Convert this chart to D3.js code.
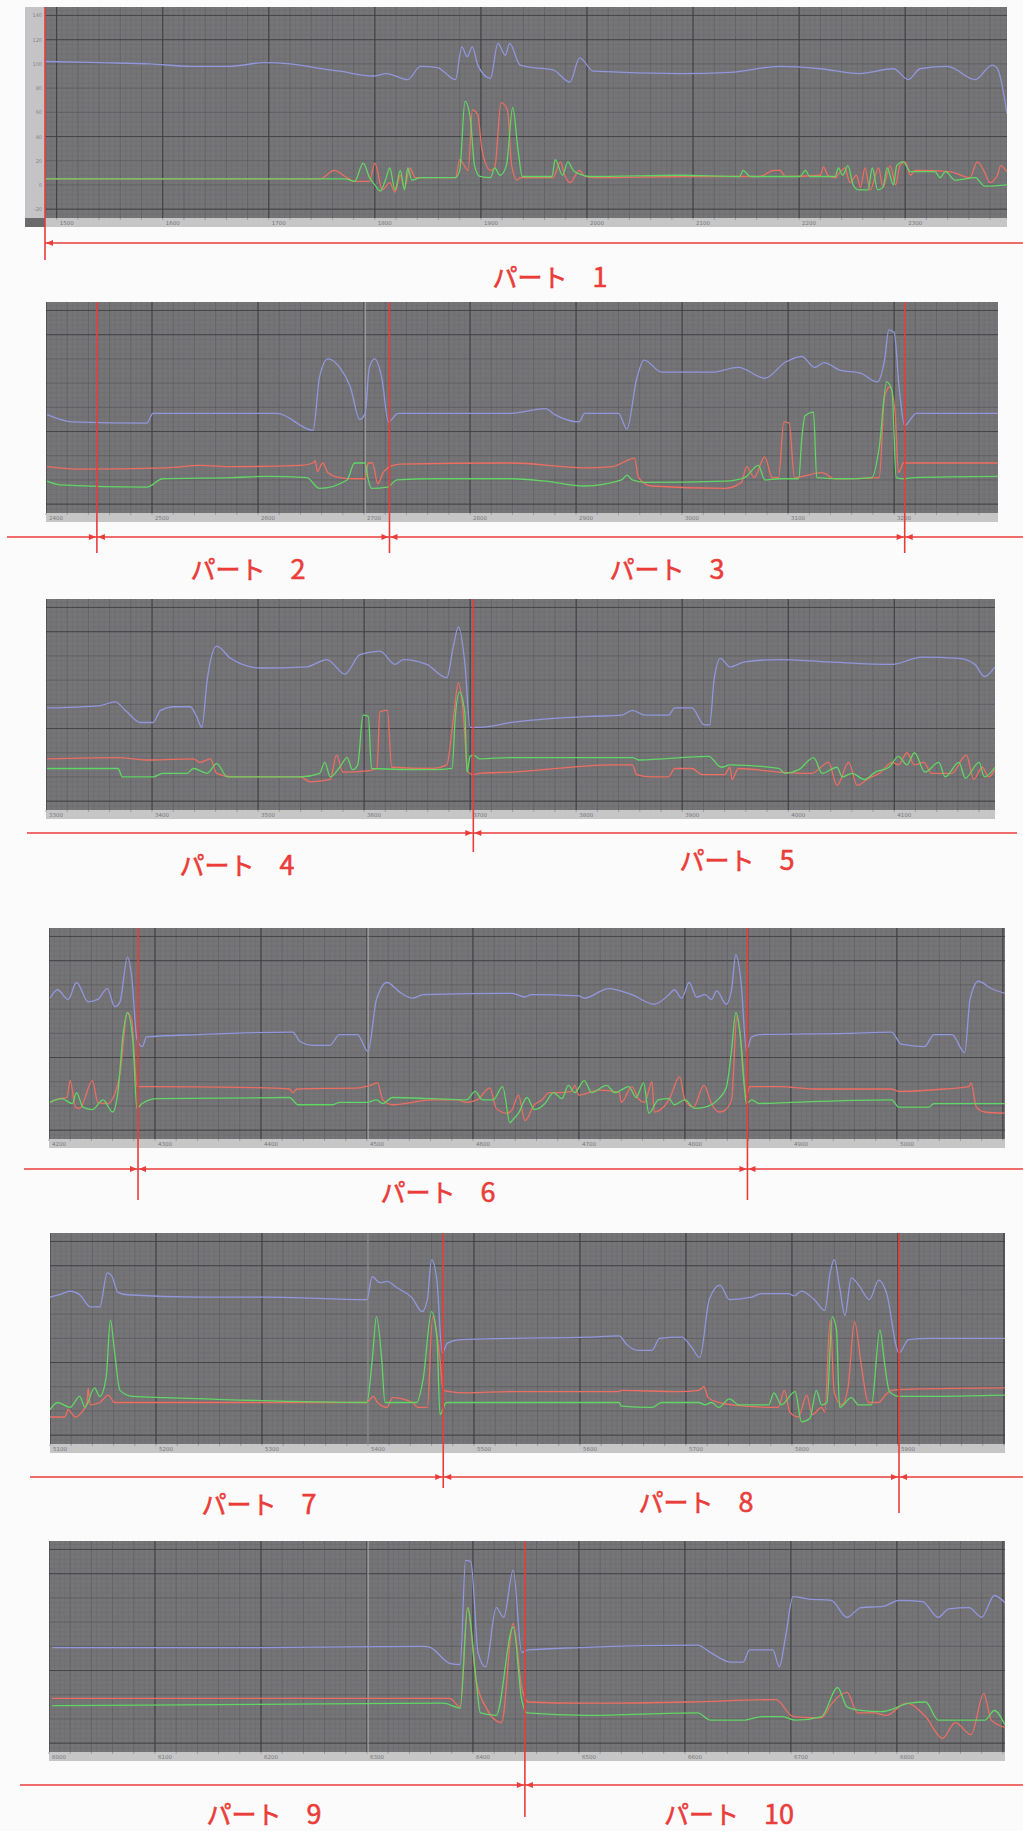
<!DOCTYPE html>
<html>
<head>
<meta charset="utf-8">
<script src="https://cdn.jsdelivr.net/npm/d3@7"></script>
<style>
  body { margin: 0; background: #fbfbfb; }
  svg { display: block; }
</style>
</head>
<body>
<svg id="chart" width="1023" height="1831"></svg>
<script>
// ---- Series data: [time offset within segment, value] ----
const p1Blue = [[0,102],[52,101],[99,100],[137,98],[174,98],[207,101],[231,100],[269,95],[278,94],[309,90],[322,92],[342,87],[354,98],[370,97],[387,87],[393,114],[398,106],[403,114],[408,99],[420,88],[427,117],[434,107],[438,117],[448,99],[460,97],[479,95],[495,85],[504,105],[517,94],[599,92],[646,93],[693,98],[731,96],[768,92],[800,96],[814,87],[825,96],[851,98],[877,87],[893,99],[898,96],[907,59]];
const p1Red = [[0,5],[259,5],[273,12],[283,7],[292,3],[306,3],[311,18],[318,-4],[325,2],[330,-6],[335,8],[339,-2],[344,14],[349,6],[387,6],[391,21],[399,12],[403,62],[408,58],[412,29],[420,12],[424,14],[430,68],[436,62],[440,16],[445,4],[448,6],[479,6],[486,19],[490,8],[495,2],[504,12],[509,7],[519,6],[599,7],[674,7],[687,12],[693,12],[698,7],[731,8],[734,15],[738,8],[745,6],[750,11],[754,14],[759,2],[765,8],[769,-2],[773,14],[778,-4],[786,14],[790,-2],[797,16],[802,0],[806,16],[811,19],[816,8],[820,12],[853,11],[872,6],[879,19],[885,12],[891,2],[898,8],[901,16],[907,11]];
const p1Green = [[0,5],[283,5],[292,3],[300,18],[306,6],[311,0],[316,-5],[321,4],[325,14],[330,-4],[335,12],[339,-4],[342,14],[346,4],[354,6],[387,6],[391,12],[396,69],[401,55],[405,16],[410,7],[420,6],[424,14],[429,8],[435,16],[441,64],[446,29],[450,7],[478,7],[481,21],[488,8],[493,19],[498,12],[504,9],[514,7],[599,8],[655,7],[658,12],[665,7],[712,7],[717,12],[721,7],[745,7],[748,14],[752,8],[757,16],[762,0],[767,-4],[776,-4],[780,14],[785,-4],[790,-2],[794,14],[800,0],[803,16],[809,19],[816,11],[839,11],[844,6],[849,11],[858,4],[877,6],[886,-1],[907,0]];

const p2Blue = [[1,54],[25,48],[95,47],[101,55],[145,55],[218,55],[252,41],[258,85],[266,100],[277,93],[287,77],[296,50],[301,55],[305,93],[310,100],[317,83],[323,48],[332,55],[439,55],[471,59],[480,54],[503,48],[508,55],[540,55],[548,42],[557,83],[564,99],[581,89],[628,89],[653,93],[678,84],[697,97],[713,102],[725,93],[734,97],[748,91],[769,88],[784,81],[791,99],[795,124],[800,122],[805,74],[810,45],[821,55],[848,55],[898,55]];
const p2Red = [[1,11],[29,9],[114,10],[145,12],[176,11],[240,12],[252,14],[254,16],[256,7],[261,14],[266,6],[277,2],[290,1],[301,1],[304,14],[308,14],[313,-3],[318,6],[324,11],[334,13],[439,14],[508,10],[534,11],[548,16],[555,18],[559,2],[571,-5],[640,-7],[656,-2],[661,11],[668,2],[678,19],[685,2],[691,2],[696,48],[701,47],[706,2],[732,6],[744,1],[786,2],[791,69],[796,77],[801,55],[804,6],[809,14],[817,14],[898,14]];
const p2Green = [[1,-1],[13,-4],[95,-6],[110,1],[176,2],[208,3],[246,2],[258,-7],[284,0],[291,14],[301,14],[304,0],[307,-7],[322,-6],[331,0],[365,1],[439,1],[471,-1],[508,-5],[543,0],[548,4],[553,0],[565,-2],[640,-1],[659,2],[672,12],[678,0],[691,1],[710,1],[713,35],[716,53],[724,56],[727,2],[753,1],[779,2],[786,27],[793,81],[798,74],[802,2],[809,1],[819,2],[898,3]];

const p3Blue = [[1,57],[51,59],[65,62],[76,54],[89,45],[101,45],[108,55],[120,58],[136,58],[142,50],[147,41],[152,80],[161,108],[174,98],[202,90],[246,91],[265,97],[282,85],[296,101],[315,104],[329,93],[337,97],[359,93],[378,82],[384,107],[389,124],[395,94],[400,41],[409,41],[439,45],[512,50],[543,51],[553,55],[565,51],[587,51],[593,57],[609,57],[621,43],[626,43],[630,80],[636,98],[645,91],[659,95],[691,97],[738,95],[798,93],[826,99],[861,98],[876,93],[885,83],[895,91]];
const p3Red = [[1,15],[67,16],[98,14],[139,15],[145,12],[155,15],[161,3],[176,0],[240,0],[249,-4],[268,-2],[274,18],[280,4],[303,5],[312,7],[315,54],[322,55],[326,8],[365,7],[378,10],[384,47],[389,78],[393,58],[398,4],[403,2],[409,3],[439,4],[534,10],[553,10],[557,2],[571,0],[587,0],[593,7],[609,7],[619,2],[640,2],[645,8],[647,-2],[653,7],[691,4],[722,3],[738,12],[746,-7],[757,12],[765,-7],[776,-1],[786,3],[798,12],[804,10],[812,20],[819,10],[828,12],[835,3],[854,3],[868,18],[875,-2],[883,8],[889,0],[895,6]];
const p3Green = [[1,7],[68,7],[72,0],[101,0],[110,3],[133,3],[139,7],[152,3],[161,11],[171,0],[240,0],[258,3],[263,12],[268,0],[277,8],[284,16],[289,6],[294,10],[299,51],[304,50],[307,7],[365,6],[383,7],[386,50],[390,70],[395,53],[397,4],[400,17],[403,18],[409,15],[439,16],[553,16],[559,14],[625,17],[637,8],[645,10],[691,7],[697,3],[710,6],[724,16],[732,3],[746,8],[751,0],[760,3],[772,-2],[782,4],[795,8],[804,17],[812,10],[819,20],[829,4],[842,12],[848,0],[861,12],[867,-1],[880,12],[885,0],[895,8]];

const p4Blue = [[1,89],[8,96],[18,88],[26,102],[37,86],[46,88],[55,97],[62,82],[67,86],[74,123],[78,107],[83,55],[88,49],[92,57],[142,59],[230,61],[237,53],[249,50],[265,50],[274,59],[291,59],[301,45],[309,88],[319,102],[331,94],[343,89],[353,92],[437,93],[449,90],[455,92],[500,91],[505,89],[528,97],[550,92],[571,84],[585,92],[590,96],[597,89],[604,102],[611,90],[619,92],[625,88],[630,95],[639,84],[644,96],[648,125],[653,102],[658,46],[663,57],[670,59],[751,60],[795,61],[804,51],[826,49],[835,59],[852,59],[864,44],[869,88],[877,103],[889,97],[902,93]];
const p4Red = [[1,3],[10,6],[17,7],[20,21],[25,-1],[29,-2],[41,21],[46,3],[55,2],[60,6],[67,27],[74,77],[78,71],[83,16],[88,16],[206,15],[227,14],[230,11],[234,14],[293,15],[303,17],[310,19],[315,5],[324,1],[362,5],[385,5],[394,3],[404,5],[416,15],[422,-2],[432,-6],[437,-3],[443,9],[449,-12],[458,1],[465,5],[472,11],[481,11],[493,12],[496,17],[500,9],[519,13],[538,11],[540,3],[550,16],[556,6],[562,3],[569,20],[571,-5],[585,5],[595,24],[600,5],[608,-1],[618,17],[625,2],[632,-5],[637,-4],[644,5],[649,74],[653,52],[658,7],[661,16],[688,16],[726,14],[795,14],[802,12],[845,14],[868,16],[870,19],[875,-1],[883,-5],[902,-6]];
const p4Green = [[1,3],[12,6],[22,2],[26,11],[32,-1],[41,-3],[51,5],[60,-5],[65,11],[70,60],[74,77],[79,55],[83,-2],[88,2],[102,6],[227,7],[235,1],[268,1],[274,3],[300,3],[309,5],[315,2],[324,7],[362,6],[394,5],[402,12],[409,5],[419,5],[428,16],[435,-14],[437,-12],[443,-6],[451,7],[458,-3],[468,2],[476,11],[484,6],[490,17],[496,11],[505,21],[512,11],[526,17],[534,11],[547,16],[554,7],[561,19],[566,-6],[575,5],[585,6],[590,1],[600,5],[609,-2],[619,-1],[632,6],[639,15],[644,46],[648,77],[652,60],[656,16],[658,2],[663,5],[670,2],[701,3],[795,5],[802,-1],[830,-1],[835,2],[877,2],[902,2]];

const p5Blue = [[0,94],[9,96],[19,99],[28,96],[38,86],[47,86],[54,114],[58,112],[64,98],[73,96],[141,94],[205,94],[299,92],[304,111],[311,106],[318,107],[327,102],[342,93],[351,82],[356,92],[360,125],[365,108],[370,48],[375,56],[387,59],[436,60],[508,61],[537,62],[544,55],[555,50],[568,50],[575,60],[596,61],[605,53],[613,44],[622,92],[632,104],[641,92],[662,94],[671,97],[697,97],[702,95],[709,99],[721,92],[731,83],[736,114],[740,125],[745,102],[750,79],[756,110],[763,104],[773,92],[782,108],[789,98],[801,48],[810,59],[829,60],[901,60]];
const p5Red = [[0,-5],[14,-5],[17,1],[24,-5],[30,-1],[35,7],[36,19],[38,5],[47,7],[55,13],[61,7],[73,7],[173,7],[299,7],[305,12],[309,7],[318,3],[323,11],[342,7],[347,3],[356,3],[361,78],[368,42],[371,17],[377,16],[393,15],[436,16],[537,16],[539,17],[593,16],[612,17],[617,20],[621,11],[631,7],[655,4],[687,3],[693,17],[698,-1],[706,-5],[714,13],[719,-3],[728,3],[731,-1],[736,75],[740,15],[747,5],[753,20],[759,74],[766,34],[772,7],[782,7],[787,12],[794,17],[813,18],[901,19]];
const p5Green = [[0,1],[7,7],[19,3],[28,12],[33,3],[42,19],[47,12],[53,28],[57,75],[61,48],[66,17],[78,12],[110,11],[299,7],[304,42],[308,78],[313,42],[316,7],[346,7],[352,26],[360,82],[365,61],[368,-3],[374,7],[436,7],[537,7],[539,4],[568,3],[577,7],[612,7],[618,5],[624,7],[631,3],[641,10],[650,5],[678,5],[683,15],[690,5],[703,16],[709,-9],[717,-6],[723,17],[728,5],[733,7],[738,78],[742,67],[745,3],[756,11],[763,5],[775,5],[783,67],[787,42],[792,16],[801,12],[829,12],[901,13]];

const p6Blue = [[3,59],[200,59],[354,60],[360,59],[378,46],[388,45],[393,131],[398,130],[405,54],[412,43],[422,92],[429,84],[438,123],[446,55],[452,57],[502,59],[612,61],[624,55],[643,47],[655,47],[661,57],[683,57],[689,43],[695,68],[702,101],[717,99],[738,98],[753,84],[766,92],[787,93],[802,98],[824,97],[839,84],[849,91],[868,92],[880,84],[892,102],[902,96]];
const p6Red = [[3,17],[323,17],[378,17],[388,10],[395,92],[403,32],[412,10],[427,-3],[438,79],[446,26],[452,14],[507,13],[605,14],[686,16],[702,2],[729,1],[738,12],[747,20],[753,22],[763,5],[778,5],[790,3],[809,13],[827,2],[843,-16],[855,-3],[870,-13],[882,21],[889,-1],[902,-7]];
const p6Green = [[3,11],[200,12],[372,13],[388,9],[395,92],[403,32],[407,5],[422,3],[438,76],[446,16],[451,5],[507,3],[612,5],[624,-1],[655,-1],[673,2],[692,2],[704,-1],[729,2],[744,26],[753,10],[766,7],[785,6],[812,13],[827,14],[839,-1],[864,-1],[883,-1],[892,7],[902,-5]];

// Segment lengths (time units) and split markers (time within segment)
const segmentSpans = [907, 898, 895, 902, 901, 902];
const tickOffsets = [11, 0, 0, 0, 0, 0];
const p1Markers = [0];
const p2Markers = [48, 324, 810];
const p3Markers = [403];
const p4Markers = [84, 659];
const p5Markers = [371, 801];
const p6Markers = [449];
const seamTimes = [[], [301], [], [301], [300], [301]];

// Axis tick labels
const p1Ticks = ["1500","1600","1700","1800","1900","2000","2100","2200","2300"];
const p2Ticks = ["2400","2500","2600","2700","2800","2900","3000","3100","3200"];
const p3Ticks = ["3300","3400","3500","3600","3700","3800","3900","4000","4100"];
const p4Ticks = ["4200","4300","4400","4500","4600","4700","4800","4900","5000"];
const p5Ticks = ["5100","5200","5300","5400","5500","5600","5700","5800","5900"];
const p6Ticks = ["6000","6100","6200","6300","6400","6500","6600","6700","6800"];
const yTicks = [140, 120, 100, 80, 60, 40, 20, 0, -20];

// Part labels
const partWord = "パート";
const partNumbers = ["1","2","3","4","5","6","7","8","9","10"];

// ---- Layout ----
const yDomain = [-27.3, 147];
const PLOT_H = 211, STRIP_H = 9;
const frames = [
  { left: 45, top: 7,    width: 962, markerY: [[7, 260]],                 arrowY: 243,  arrowX: [45, 1023], labels: [[550, 278]] },
  { left: 46, top: 302,  width: 952, markerY: [[302,553],[302,553],[302,553]], arrowY: 537, arrowX: [7, 1023], labels: [[248, 570],[667, 570]] },
  { left: 46, top: 599,  width: 949, markerY: [[599, 852]],               arrowY: 833,  arrowX: [27, 1017], labels: [[237, 866],[737, 861]] },
  { left: 49, top: 928,  width: 956, markerY: [[928,1200],[928,1200]],    arrowY: 1169, arrowX: [24, 1023], labels: [[438, 1193]] },
  { left: 50, top: 1233, width: 955, markerY: [[1233,1488],[1233,1513]],  arrowY: 1477, arrowX: [30, 1023], labels: [[259, 1505],[696, 1503]] },
  { left: 49, top: 1541, width: 956, markerY: [[1541,1817]],              arrowY: 1785, arrowX: [20, 1023], labels: [[264, 1815],[729, 1815]] }
];

const series = [
  [p1Blue, p1Red, p1Green], [p2Blue, p2Red, p2Green], [p3Blue, p3Red, p3Green],
  [p4Blue, p4Red, p4Green], [p5Blue, p5Red, p5Green], [p6Blue, p6Red, p6Green]
];
const markers = [p1Markers, p2Markers, p3Markers, p4Markers, p5Markers, p6Markers];
const ticks = [p1Ticks, p2Ticks, p3Ticks, p4Ticks, p5Ticks, p6Ticks];

const lineColors = ["#9296dc", "#ee6d61", "#60d664"];
const MARK = "#ea3d3a";

const svg = d3.select("#chart");
const defs = svg.append("defs");
let partIndex = 0;

frames.forEach((f, i) => {
  const span = segmentSpans[i];
  const x = d3.scaleLinear().domain([0, span]).range([f.left, f.left + f.width]);
  const y = d3.scaleLinear().domain(yDomain).range([f.top + PLOT_H, f.top]);
  const g = svg.append("g");

  defs.append("clipPath").attr("id", "clip" + i)
    .append("rect").attr("x", f.left).attr("y", f.top).attr("width", f.width).attr("height", PLOT_H);

  // plot background
  g.append("rect").attr("x", f.left).attr("y", f.top).attr("width", f.width).attr("height", PLOT_H)
    .attr("fill", "#757578");

  const grid = g.append("g").attr("clip-path", `url(#clip${i})`);
  const off = tickOffsets[i];
  const startT = off - Math.ceil(off / 5) * 5;
  const vFine = d3.range(startT, span, 5);
  grid.selectAll(".vf").data(vFine).join("line")
    .attr("x1", d => x(d)).attr("x2", d => x(d)).attr("y1", f.top).attr("y2", f.top + PLOT_H)
    .attr("stroke", (d) => (Math.round(d - off) % 20 === 0) ? "#626265" : "#6d6d70")
    .attr("stroke-width", (d) => (Math.round(d - off) % 20 === 0) ? 0.9 : 0.6);
  const hFine = d3.range(-24, 148, 4);
  grid.selectAll(".hf").data(hFine).join("line")
    .attr("x1", f.left).attr("x2", f.left + f.width).attr("y1", d => y(d)).attr("y2", d => y(d))
    .attr("stroke", d => d % 20 === 0 ? "#5e5e61" : "#6d6d70")
    .attr("stroke-width", d => d % 20 === 0 ? 0.9 : 0.6);
  grid.selectAll(".hm").data([140, 120, 40, -20]).join("line")
    .attr("x1", f.left).attr("x2", f.left + f.width).attr("y1", d => y(d)).attr("y2", d => y(d))
    .attr("stroke", "#464649").attr("stroke-width", 1);
  const majors = d3.range(off, span, 100);
  grid.selectAll(".vm").data(majors).join("line")
    .attr("x1", d => x(d)).attr("x2", d => x(d)).attr("y1", f.top).attr("y2", f.top + PLOT_H)
    .attr("stroke", "#3e3e41").attr("stroke-width", 1);
  grid.selectAll(".seam").data(seamTimes[i]).join("line")
    .attr("x1", d => x(d)).attr("x2", d => x(d)).attr("y1", f.top).attr("y2", f.top + PLOT_H + STRIP_H)
    .attr("stroke", "#cfcfcf").attr("stroke-opacity", 0.75).attr("stroke-width", 1);

  // x-axis strip
  const sy = f.top + PLOT_H;
  g.append("rect").attr("x", f.left).attr("y", sy).attr("width", f.width).attr("height", STRIP_H)
    .attr("fill", "#c6c6c7");
  g.selectAll(".mt").data(d3.range(off, span, 20)).join("line")
    .attr("x1", d => x(d)).attr("x2", d => x(d)).attr("y1", sy).attr("y2", sy + 2)
    .attr("stroke", "#8c8c8c").attr("stroke-width", 0.7);
  g.selectAll(".tl").data(majors.slice(0, ticks[i].length)).join("text")
    .attr("x", d => x(d) + 3).attr("y", sy + 7)
    .attr("font-family", "DejaVu Sans, sans-serif").attr("font-size", 5.5).attr("fill", "#77777a")
    .text((d, k) => ticks[i][k]);

  // value axis (first segment only)
  if (i === 0) {
    g.append("rect").attr("x", 25).attr("y", f.top).attr("width", f.left - 25).attr("height", PLOT_H)
      .attr("fill", "#c4c4c6");
    g.append("rect").attr("x", 25).attr("y", sy).attr("width", f.left - 25).attr("height", STRIP_H)
      .attr("fill", "#6a6a6d");
    g.selectAll(".yl").data(yTicks).join("text")
      .attr("x", 42).attr("y", d => y(d) + 2).attr("text-anchor", "end")
      .attr("font-family", "DejaVu Sans, sans-serif").attr("font-size", 5).attr("fill", "#858588")
      .text(d => d);
  }

  // series lines
  const line = d3.line().x(d => x(d[0])).y(d => y(d[1])).curve(d3.curveMonotoneX);
  const lg = g.append("g").attr("clip-path", `url(#clip${i})`);
  series[i].forEach((s, k) => {
    lg.append("path").datum(s).attr("d", line)
      .attr("fill", "none").attr("stroke", lineColors[k]).attr("stroke-width", 1.3)
      .attr("stroke-linejoin", "round");
  });

  // split markers and dimension line
  const ann = svg.append("g");
  ann.append("line").attr("x1", f.arrowX[0]).attr("x2", f.arrowX[1])
    .attr("y1", f.arrowY).attr("y2", f.arrowY).attr("stroke", MARK).attr("stroke-width", 1.5);
  markers[i].forEach((t, k) => {
    const mx = x(t);
    const [y1, y2] = f.markerY[k];
    ann.append("line").attr("x1", mx).attr("x2", mx).attr("y1", y1).attr("y2", y2)
      .attr("stroke", MARK).attr("stroke-width", 1.6);
    const ay = f.arrowY;
    if (mx - 8 > f.arrowX[0]) {
      ann.append("path").attr("d", `M${mx - 1},${ay} L${mx - 8},${ay - 3} L${mx - 8},${ay + 3} Z`).attr("fill", MARK);
    }
    if (mx + 8 < f.arrowX[1]) {
      ann.append("path").attr("d", `M${mx + 1},${ay} L${mx + 8},${ay - 3} L${mx + 8},${ay + 3} Z`).attr("fill", MARK);
    }
  });

  // part labels
  f.labels.forEach(([lx, ly]) => {
    const t = ann.append("text").attr("x", lx).attr("y", ly + 9).attr("text-anchor", "middle")
      .attr("font-family", "Noto Sans CJK JP, sans-serif").attr("font-size", 25)
      .attr("fill", MARK).attr("stroke", MARK).attr("stroke-width", 0.6);
    t.append("tspan").text(partWord + "\u3000");
    t.append("tspan").attr("font-size", 27).text(partNumbers[partIndex]);
    partIndex++;
  });
});
</script>
</body>
</html>
